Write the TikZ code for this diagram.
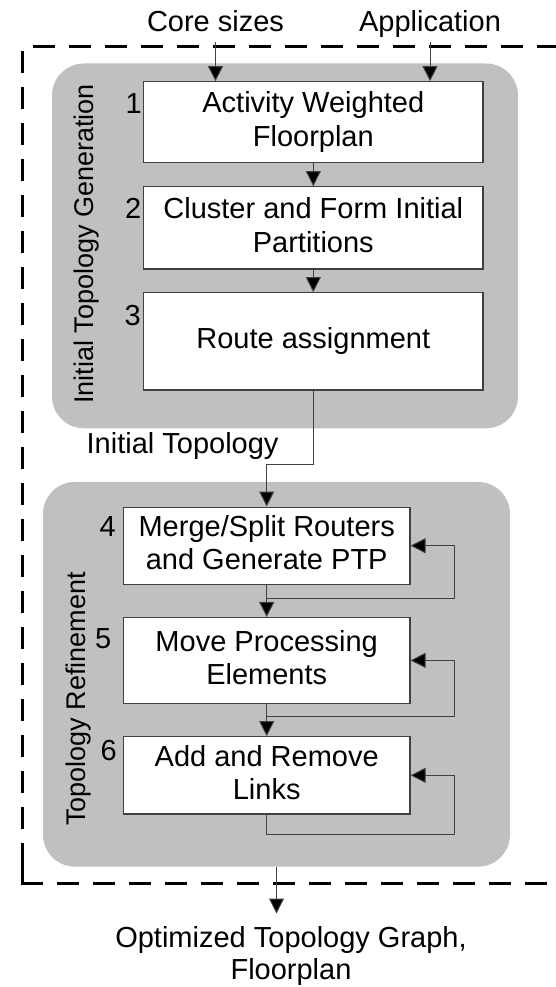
\documentclass[tikz,border=0pt]{standalone}
\usepackage{fontspec}
\setmainfont{Liberation Sans}
\usetikzlibrary{arrows.meta}
\definecolor{panel}{HTML}{C0C0C0}
% strut that fixes the height/depth of every text line in the boxes
\newcommand{\bxs}{\rule[-7pt]{0pt}{29pt}}
\begin{document}
\begin{tikzpicture}[x=1pt,y=-1pt,
  panelbox/.style={fill=panel, rounded corners=32pt, inner sep=0pt},
  stepbox/.style={draw=black!75, line width=1.1pt, fill=white, align=center,
    inner sep=0pt, font=\fontsize{29}{33.4}\selectfont},
  lbl/.style={inner sep=0pt, font=\fontsize{29}{33.4}\selectfont},
  vlbl/.style={inner sep=0pt, rotate=90, anchor=base, font=\fontsize{27}{32}\selectfont},
  num/.style={inner sep=0pt, anchor=base east, font=\fontsize{29}{33.4}\selectfont},
  arr/.style={draw=black!75, line width=1pt,
    -{Triangle[length=15pt,width=15pt,fill=black]}},
  frame/.style={line width=3pt, dash pattern=on 22pt off 14pt}
]
\useasboundingbox (0,0) rectangle (556,987);

% grey stage panels
\node[panelbox, minimum width=466pt, minimum height=364.8pt] (g1) at (285,245.9) {};
\node[panelbox, minimum width=467pt, minimum height=384.7pt] (g2) at (276.5,674.3) {};

% dashed outer frame (open on the right)
\draw[frame, dash phase=25.3pt] (22,47) -- (556,47);
\draw[frame, dash phase=32.3pt] (22,47) -- (22,842);
\draw[line width=3pt] (22,843) -- (22,883) -- (43,883);
\draw[frame, dash phase=22pt] (43,883) -- (556,883);

% step boxes
\node[stepbox, minimum width=339.4pt, minimum height=81pt]   (b1) at (313.3,122.2)  {\bxs Activity Weighted\\\bxs Floorplan};
\node[stepbox, minimum width=339.4pt, minimum height=82.3pt] (b2) at (313.3,227.85) {\bxs Cluster and Form Initial\\\bxs Partitions};
\node[stepbox, minimum width=339.4pt, minimum height=97.3pt] (b3) at (313.3,341.3)  {\bxs Route assignment};
\node[stepbox, minimum width=286.6pt, minimum height=77.3pt] (b4) at (266.7,545.7)  {\bxs Merge/Split Routers\\\bxs and Generate PTP};
\node[stepbox, minimum width=286.6pt, minimum height=85.8pt] (b5) at (266.7,660.4)  {\bxs Move Processing\\\bxs Elements};
\node[stepbox, minimum width=286.6pt, minimum height=77.3pt] (b6) at (266.7,775.3)  {\bxs Add and Remove\\\bxs Links};

% step numbers
\node[num] (n1) at (142,113.3) {1};
\node[num] (n2) at (141.5,218.3) {2};
\node[num] (n3) at (141,325) {3};
\node[num] (n4) at (116,536.7) {4};
\node[num] (n5) at (111.5,648.3) {5};
\node[num] (n6) at (117,760) {6};

% labels
\node[lbl, anchor=base] (core) at (215.5,31.7) {Core sizes};
\node[lbl, anchor=base] (app) at (430,31.7) {Application};
\node[lbl, anchor=base] (itopo) at (182.6,453.3) {Initial Topology};
\node[vlbl] (itg) at (93.3,244) {Initial Topology Generation};
\node[vlbl] (tref) at (85,699) {Topology Refinement};
\node[lbl, align=center, font=\fontsize{29}{31.3}\selectfont] (out) at (291,955.85)
  {\bxs Optimized Topology Graph,\\\bxs Floorplan};

% flow
\draw[arr] ([yshift=-10.8pt]core.base) -- (core.base |- b1.north);
\draw[arr] ([yshift=-10.8pt]app.base) -- (app.base |- b1.north);
\draw[arr] (b1.south) -- (b2.north);
\draw[arr] (b2.south) -- (b3.north);
\draw[arr] (b3.south) -- ++(0,74) -| (b4.north);
\draw[arr] (b4.south) -- (b5.north);
\draw[arr] (b5.south) -- (b6.north);

% refinement loops
\draw[arr] (b4.south) -- ++(0,14)   -| ([xshift=44pt]b4.east) -- (b4.east);
\draw[arr] (b5.south) -- ++(0,12.7) -| ([xshift=44pt]b5.east) -- (b5.east);
\draw[arr] (b6.south) -- ++(0,20)   -| ([xshift=44pt]b6.east) -- (b6.east);

% result
\draw[arr] (g2.south) -- ([yshift=12pt]out.north -| g2.south);
\end{tikzpicture}
\end{document}
